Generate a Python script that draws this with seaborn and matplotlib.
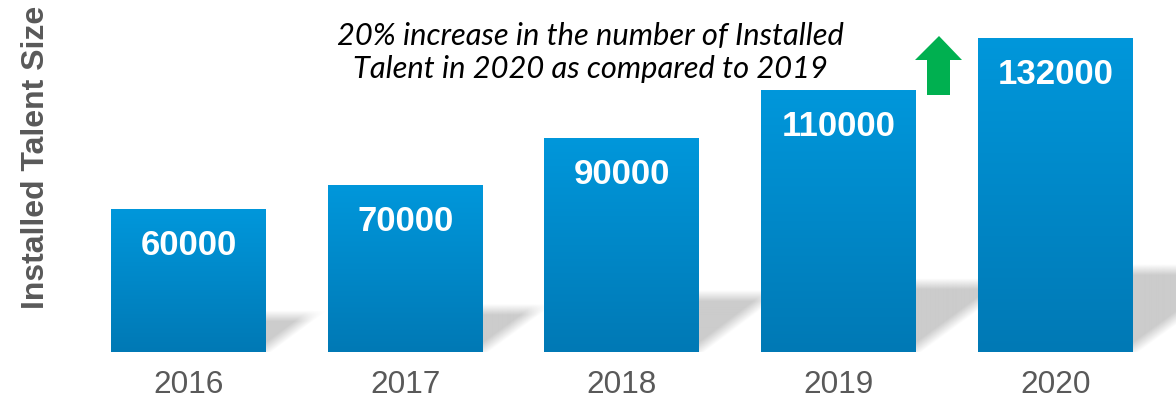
import numpy as np
import pandas as pd
import matplotlib
matplotlib.use("Agg")
import matplotlib.pyplot as plt
import seaborn as sns
from matplotlib.patches import Polygon
from matplotlib.colors import LinearSegmentedColormap

# ---- data ----
years = ["2016", "2017", "2018", "2019", "2020"]
installed_talent = [60000, 70000, 90000, 110000, 132000]
value_labels = ["60000", "70000", "90000", "110000", "132000"]
y_title = "Installed Talent Size"
note_lines = ["20% increase in the number of Installed",
              "Talent in 2020 as compared to 2019"]

W, H = 1176, 405
sns.set_theme(style="white")
plt.rcParams["font.family"] = ["Liberation Sans", "DejaVu Sans"]

fig = plt.figure(figsize=(W / 100, H / 100), dpi=100)
ax = fig.add_axes([100 / W, 53 / H, 1076 / W, 352 / H])

df = pd.DataFrame({"year": years, "size": installed_talent})
sns.barplot(data=df, x="year", y="size", ax=ax, width=0.715,
            color="#0088c8", saturation=1, zorder=3)

XMIN, XMAX = -0.408, 4.556
YMAX = 147900
px_x = (XMAX - XMIN) / 1076      # data units per pixel, horizontal
px_y = YMAX / 352                # data units per pixel, vertical

cmap = LinearSegmentedColormap.from_list("bar_grad", ["#0079b5", "#0097db"])
grad = np.linspace(0, 1, 256).reshape(-1, 1)


def floor_shadow(bar_h_px):
    """Soft grey wedge cast to the right of a bar, as an RGBA raster (px grid)."""
    s = 0.27 * bar_h_px
    wlen = 1.35 * s
    nu, nv = int(wlen + 14), int(s + 8)
    u = np.arange(nu)[None, :] + 0.5
    v = np.arange(nv)[:, None] + 0.5
    a_top = np.clip((s + 3 - v) / 11.0, 0, 1)
    a_diag = np.clip((v - u * s / wlen + 4) / 14.0, 0, 1)
    alpha = a_top * a_diag
    img = np.zeros((nv, nu, 4))
    img[..., :3] = 0.8
    img[..., 3] = alpha
    return img, nu, nv


for p in ax.patches:
    x0 = p.get_x()
    w = p.get_width()
    h = p.get_height()
    xr = x0 + w
    img, nu, nv = floor_shadow(h / px_y)
    ax.imshow(img, extent=[xr, xr + nu * px_x, 0, nv * px_y], origin="lower",
              aspect="auto", interpolation="bilinear", zorder=1)
    # vertical blue gradient fill
    im = ax.imshow(grad, extent=[x0, xr, 0, h], origin="lower",
                   aspect="auto", cmap=cmap, zorder=3.5)
    im.set_clip_path(p)
    p.set_alpha(0)

for p, lab in zip(ax.patches, value_labels):
    ax.annotate(lab, xy=(p.get_x() + p.get_width() / 2, p.get_height()),
                xytext=(0, -33.1), textcoords="offset points",
                ha="center", va="baseline", color="white",
                fontsize=25, fontweight="bold", zorder=5)

ax.set_xlim(XMIN, XMAX)
ax.set_ylim(0, YMAX)
ax.set_xlabel("")
ax.set_yticks([])
ax.tick_params(axis="x", length=0, pad=13, labelsize=22.7,
               labelcolor="#595959")
for sp in ax.spines.values():
    sp.set_visible(False)
ax.set_ylabel(y_title, fontsize=23, fontweight="bold", color="#595959")
ax.yaxis.set_label_coords(-0.0455, 0.552)

# annotation note
for line, base in zip(note_lines, [45, 78]):
    fig.text(590 / W, 1 - base / H, line, ha="center", va="baseline",
             fontsize=22.2, style="italic", family=["Lato", "DejaVu Sans"],
             color="black")

# green up arrow
arrow_px = [(915, 60), (939, 36), (962, 60), (950, 60), (950, 95),
            (927, 95), (927, 60)]
fig.add_artist(Polygon([(x / W, 1 - y / H) for x, y in arrow_px],
                       closed=True, transform=fig.transFigure,
                       facecolor="#00b050", edgecolor="none"))

fig.savefig("out.png", dpi=100)
